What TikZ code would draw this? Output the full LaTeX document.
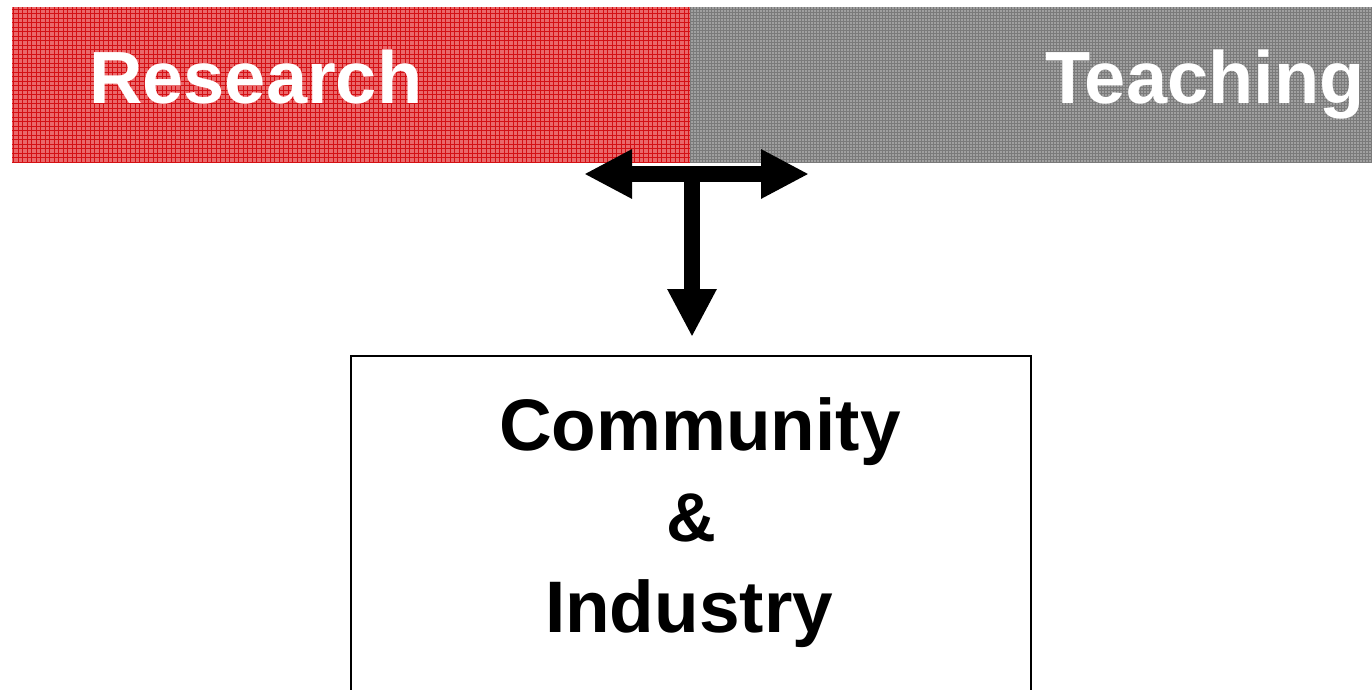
\documentclass[tikz,border=0pt]{standalone}
\usepackage{fontspec}
\setmainfont{Liberation Sans}
\usetikzlibrary{arrows.meta}
\definecolor{resred}{RGB}{234,104,106}
\definecolor{resredline}{RGB}{212,16,20}
\definecolor{teachgray}{RGB}{160,160,160}
\definecolor{teachline}{RGB}{122,122,122}
\tikzset{
  bandtext/.style={text=white, font=\fontsize{74}{80}\selectfont\bfseries, inner sep=0pt, anchor=base west},
  boxtext/.style={font=\fontsize{73}{80}\selectfont\bfseries, inner sep=0pt, anchor=base},
  bigarrow/.style={line width=16pt, -{Triangle[width=46pt,length=48pt]}},
}
\begin{document}
\begin{tikzpicture}[x=1pt,y=-1pt]
\clip (0,0) rectangle (1372,689);
\fill[white] (0,0) rectangle (1372,689);
% the two bands
\fill[resred] (12,7) rectangle (690,162);
\draw[resredline, line width=0.9pt, step=4.5pt] (12,7) grid (690,162);
\fill[teachgray] (690,7) rectangle (1372,162);
\draw[teachline, line width=0.9pt, step=3pt] (690,7) grid (1372,162);
\node[bandtext] (research) at (89,103) {Research};
\node[bandtext] (teaching) at (1045,103) {Teaching};
% the box below
\node[draw, line width=2pt, minimum width=680pt, minimum height=400pt, inner sep=0pt, anchor=north] (box) at (691,355) {};
\node[boxtext] (community) at (700,450) {Community};
\node[boxtext, font=\fontsize{69}{74}\selectfont\bfseries] (amp) at (691,541) {\&};
\node[boxtext] (industry) at (689,632) {Industry};
% the T arrow
\coordinate (hub) at (692,174);
\coordinate (ltip) at (584,174);
\coordinate (rtip) at (809,174);
\draw[line width=16pt, {Triangle[width=46pt,length=48pt]}-{Triangle[width=46pt,length=48pt]}] (ltip) -- (rtip);
\draw[bigarrow] (hub) -- ([yshift=18pt]box.north -| hub);
\end{tikzpicture}
\end{document}
